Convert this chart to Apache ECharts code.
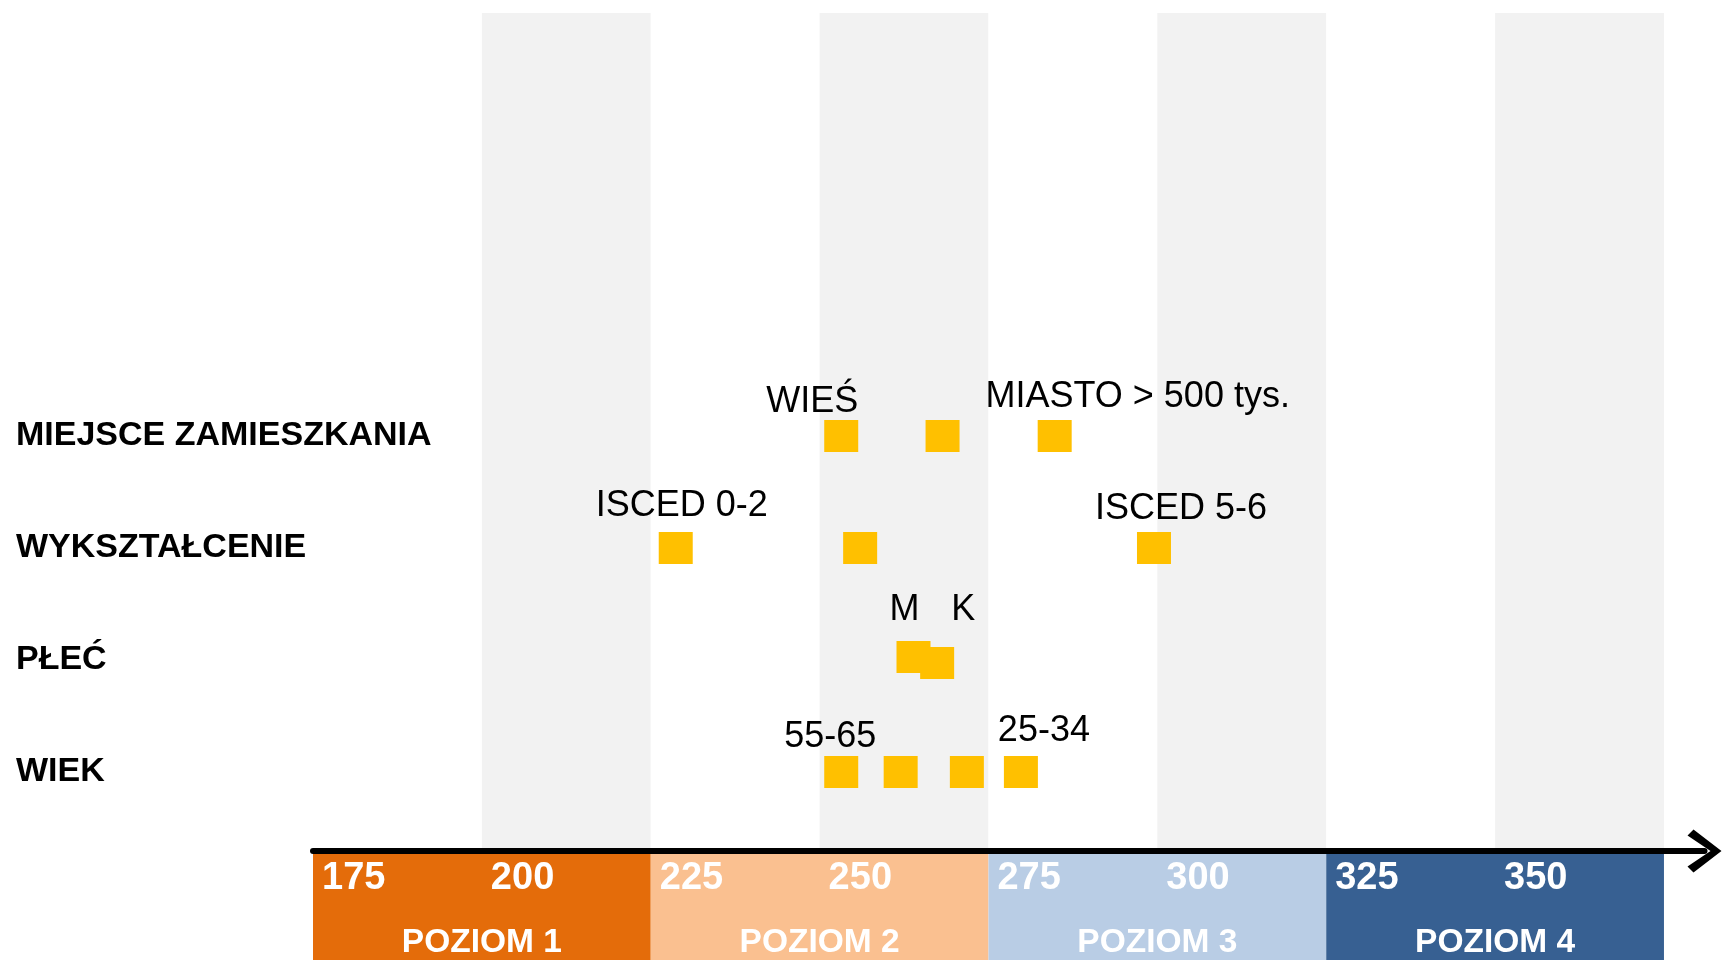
<!DOCTYPE html>
<html>
<head>
<meta charset="utf-8">
<title>Wyniki wg cech</title>
<script src="https://cdn.jsdelivr.net/npm/echarts@6/dist/echarts.min.js"></script>
<style>
  html, body { margin: 0; padding: 0; background: #fff; }
  #chart { width: 1722px; height: 960px; }
</style>
</head>
<body>
<div id="chart"></div>
<script>
// dane
var rows = ['MIEJSCE ZAMIESZKANIA', 'WYKSZTAŁCENIE', 'PŁEĆ', 'WIEK'];
var rowValues = [
  [253.2, 268.2, 284.8],
  [228.7, 256.0, 299.5],
  [263.9, 267.4],
  [253.2, 262.0, 271.8, 279.8]
];
var rowNames = [
  ['WIEŚ', '', 'MIASTO > 500 tys.'],
  ['ISCED 0-2', '', 'ISCED 5-6'],
  ['M', 'K'],
  ['55-65', '', '', '25-34']
];
var tickValues = [175, 200, 225, 250, 275, 300, 325, 350];
var levelNames = ['POZIOM 1', 'POZIOM 2', 'POZIOM 3', 'POZIOM 4'];
var levelStart = [175, 225, 275, 325];
var levelEnd = [225, 275, 325, 375];

// wyglad
var levelColors = ['#E46C0A', '#FAC090', '#B9CDE5', '#376092'];
var labelOffsets = [
  [[-29, -34], null, [83, -39]],
  [[6, -42], null, [27, -39]],
  [[-9, -47], [26, -53]],
  [[-11, -35], null, null, [23, -41]]
];
var shifts = [
  [], [], [[0, -3], [0, 3]], []
];
var font = '"Liberation Sans", Arial, sans-serif';
var chevron = 'path://M0,28 L21.5,0 L43,28 L37,34 L21.5,11 L6,34 Z';

var points = [];
rowValues.forEach(function (vals, r) {
  vals.forEach(function (v, i) {
    var off = labelOffsets[r][i];
    points.push({
      value: [v, r],
      name: rowNames[r][i],
      symbolOffset: shifts[r][i] || [0, 0],
      label: off ? { show: true, offset: off } : { show: false }
    });
  });
});

var levels = levelStart.map(function (s, i) {
  return [s, levelEnd[i], i];
});

var chart = echarts.init(document.getElementById('chart'));
chart.setOption({
  animation: false,
  grid: [
    { left: 313, right: 17.5, top: 13, bottom: 109 },
    { left: 313, right: 17.5, top: 380, height: 448 },
    { left: 313, right: 17.5, top: 854, bottom: 0 }
  ],
  xAxis: [
    {
      gridIndex: 0, type: 'value', min: 175, max: 381, interval: 25,
      axisLine: {
        show: true, symbol: ['none', chevron], symbolSize: [43, 34],
        lineStyle: { color: '#000', width: 6 }
      },
      axisTick: { show: false },
      axisLabel: { show: false },
      splitLine: { show: false },
      splitArea: { show: true, areaStyle: { color: ['#ffffff', '#F2F2F2'] } }
    },
    {
      gridIndex: 1, type: 'value', min: 175, max: 381, show: false
    },
    {
      gridIndex: 2, type: 'value', min: 175, max: 381, position: 'top',
      axisLine: { show: false },
      axisTick: { show: false },
      splitLine: { show: false },
      axisLabel: {
        inside: true, customValues: tickValues, align: 'left', margin: 6,
        padding: [0, 0, 0, 9], color: '#fff', fontFamily: font,
        fontWeight: 'bold', fontSize: 38
      },
      z: 5
    }
  ],
  yAxis: [
    { gridIndex: 0, type: 'value', min: 0, max: 1, show: false },
    {
      gridIndex: 1, type: 'category', data: rows, inverse: true,
      axisLine: { show: false },
      axisTick: { show: false },
      axisLabel: {
        align: 'left', margin: 297, color: '#000', fontFamily: font,
        fontWeight: 'bold', fontSize: 34, overflow: 'none', width: 420
      }
    },
    { gridIndex: 2, type: 'value', min: 0, max: 1, show: false }
  ],
  series: [
    {
      type: 'scatter',
      xAxisIndex: 1,
      yAxisIndex: 1,
      symbol: 'rect',
      symbolSize: [34, 32],
      itemStyle: { color: '#FFC000', opacity: 1 },
      label: {
        position: 'inside', formatter: '{b}', color: '#000',
        fontFamily: font, fontSize: 36
      },
      emphasis: { disabled: true },
      z: 3,
      data: points
    },
    {
      type: 'custom',
      xAxisIndex: 2,
      yAxisIndex: 2,
      silent: true,
      data: levels,
      renderItem: function (params, api) {
        var p0 = api.coord([api.value(0), 1]);
        var p1 = api.coord([api.value(1), 0]);
        var i = api.value(2);
        return {
          type: 'group',
          children: [
            {
              type: 'rect',
              shape: { x: p0[0], y: p0[1], width: p1[0] - p0[0], height: p1[1] - p0[1] },
              style: { fill: levelColors[i] }
            },
            {
              type: 'text',
              style: {
                text: levelNames[i], x: (p0[0] + p1[0]) / 2, y: p1[1] - 17,
                align: 'center', verticalAlign: 'middle', fill: '#fff',
                font: 'bold 33.5px ' + font
              }
            }
          ]
        };
      }
    }
  ]
});
</script>
</body>
</html>
